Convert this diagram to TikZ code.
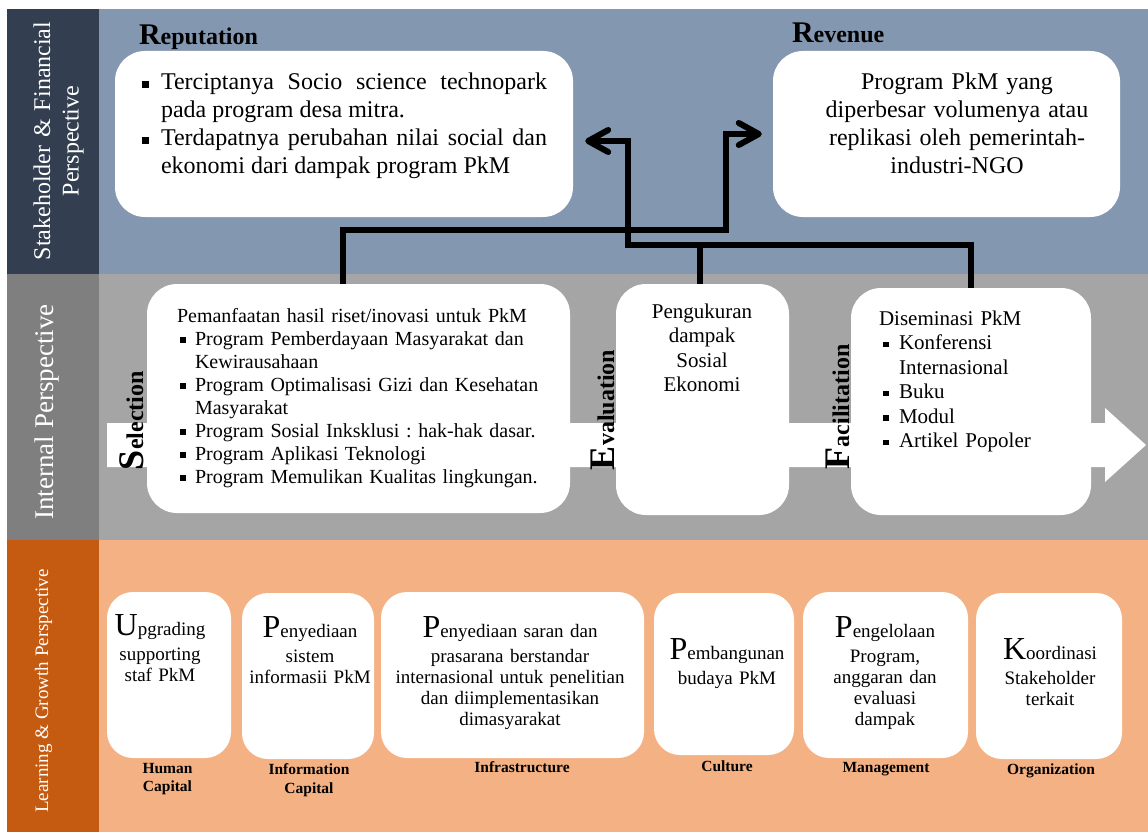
\documentclass[tikz,border=0pt]{standalone}
\usepackage{fontspec}
\setmainfont{Liberation Serif}
\usetikzlibrary{arrows.meta}
\definecolor{topband}{HTML}{8497B0}
\definecolor{topside}{HTML}{333F50}
\definecolor{midband}{HTML}{A5A5A5}
\definecolor{midside}{HTML}{7F7F7F}
\definecolor{botband}{HTML}{F4B183}
\definecolor{botside}{HTML}{C55A11}
\frenchspacing
\newcommand{\sqb}{\raisebox{0.1em}{\rule{0.28em}{0.28em}}}
\newcommand{\bitem}[3]{\noindent\hangindent=#2\hangafter=1\makebox[#2][l]{\hspace{#1}\sqb}#3\par}
\newcommand{\initl}[1]{{\fontsize{32}{21}\selectfont #1}}
\newcommand{\bigini}[1]{{\fontsize{36}{36}\selectfont #1}}
\tikzset{
  wbox/.style={fill=white, draw=none, rounded corners=30pt, inner sep=0pt},
  sbox/.style={fill=white, draw=none, rounded corners=26pt, inner sep=0pt},
  conn/.style={line width=6pt, draw=black, line join=miter},
  tip/.style={-{Straight Barb[length=20pt,width=22pt,round]}},
  txt/.style={inner sep=0pt, outer sep=0pt},
  sidelab/.style={text=white, rotate=90, inner sep=0pt, align=center},
  boxtxt/.style={txt, anchor=base, align=center, font=\fontsize{19}{21}\selectfont},
  caplab/.style={txt, anchor=base, align=center, text width=130pt, font=\bfseries\fontsize{15.5}{18}\selectfont},
  steplab/.style={txt, rotate=90, anchor=base west, font=\bfseries\fontsize{24}{24}\selectfont},
}
\begin{document}
\begin{tikzpicture}[x=1pt,y=1pt]
\useasboundingbox (0,0) rectangle (1148,-832);
% bands
\fill[topband] (7,-9) rectangle (1148,-274);
\fill[topside] (7,-9) rectangle (99,-274);
\fill[midband] (7,-274) rectangle (1148,-540);
\fill[midside] (7,-274) rectangle (99,-540);
\fill[botband] (7,-540) rectangle (1148,-832);
\fill[botside] (7,-540) rectangle (99,-832);
% side labels
\node[sidelab, text width=260pt, anchor=base, font=\fontsize{24}{28.5}\selectfont] (labsf) at (50,-141) {Stakeholder \& Financial\\Perspective};
\node[sidelab, anchor=base, font=\fontsize{27}{28}\selectfont] (labip) at (53,-412) {Internal Perspective};
\node[sidelab, anchor=base, font=\fontsize{19}{22}\selectfont] (lablg) at (48,-691) {Learning \& Growth Perspective};
% white process arrow
\fill[white] (107,-423) -- (1105,-423) -- (1105,-408) -- (1146,-445) -- (1105,-482) -- (1105,-467) -- (107,-467) -- cycle;
% boxes
\node[wbox, minimum width=458pt, minimum height=166pt] (rep) at (344,-134) {};
\node[wbox, minimum width=347pt, minimum height=166pt] (rev) at (946.5,-134) {};
\node[wbox, minimum width=423pt, minimum height=229pt] (sel) at (358.5,-398.5) {};
\node[wbox, minimum width=173pt, minimum height=231pt] (eva) at (702.5,-399.5) {};
\node[wbox, minimum width=240pt, minimum height=227pt] (fac) at (971,-401.5) {};
\node[sbox, minimum width=124pt, minimum height=166pt] (b1) at (169,-675) {};
\node[sbox, minimum width=132pt, minimum height=166pt] (b2) at (308,-676) {};
\node[sbox, minimum width=263pt, minimum height=166pt] (b3) at (512.5,-675) {};
\node[sbox, minimum width=140pt, minimum height=162pt] (b4) at (724,-674) {};
\node[sbox, minimum width=165pt, minimum height=166pt] (b5) at (885.5,-675) {};
\node[sbox, minimum width=146pt, minimum height=166pt] (b6) at (1049,-676) {};
% connectors
\coordinate (j1) at (726,-230);
\coordinate (j2) at (628,-245);
\coordinate (j3) at (700,-245);
\draw[conn, tip] ([xshift=-15.5pt]sel.north) |- (j1) |- ([xshift=-11pt]rev.west);
\draw[conn, tip] (fac.north) |- (j2) |- ([xshift=12pt,yshift=-7pt]rep.east);
\draw[conn] (eva.north -| j3) -- (j3);
% titles
\node[txt, anchor=base west] (trep) at (139,-45) {\bfseries{\fontsize{30}{30}\selectfont R}{\fontsize{24}{24}\selectfont eputation}};
\node[txt, anchor=base west] (trev) at (792,-43) {\bfseries{\fontsize{30}{30}\selectfont R}{\fontsize{24}{24}\selectfont evenue}};
% top texts
\node[txt, anchor=base west, font=\fontsize{24}{28}\selectfont] (reptxt) at (142,-90) {\parbox[t]{405pt}{%
\bitem{0pt}{19pt}{Terciptanya Socio science technopark\linebreak pada program desa mitra.}%
\bitem{0pt}{19pt}{Terdapatnya perubahan nilai social dan\linebreak ekonomi dari dampak program PkM}}};
\node[txt, anchor=base, text width=340pt, align=center, font=\fontsize{24}{28}\selectfont] (revtxt) at (957,-90) {Program PkM yang\\diperbesar volumenya atau\\replikasi oleh pemerintah-\\industri-NGO};
% middle texts
\node[txt, anchor=base west, text width=380pt, align=left, font=\fontsize{20}{23}\selectfont] (seltxt) at (177,-322) {%
Pemanfaatan hasil riset/inovasi untuk PkM\par
\bitem{3pt}{18pt}{Program Pemberdayaan Masyarakat dan\newline Kewirausahaan}%
\bitem{3pt}{18pt}{Program Optimalisasi Gizi dan Kesehatan\newline Masyarakat}%
\bitem{3pt}{18pt}{Program Sosial Inksklusi : hak-hak dasar.}%
\bitem{3pt}{18pt}{Program Aplikasi Teknologi}%
\bitem{3pt}{18pt}{Program Memulikan Kualitas lingkungan.}};
\node[txt, anchor=base, text width=170pt, align=center, font=\fontsize{21}{24.5}\selectfont] (evatxt) at (702,-318) {Pengukuran\\dampak\\Sosial\\Ekonomi};
\node[txt, anchor=base west, text width=210pt, align=left, font=\fontsize{21}{24.5}\selectfont] (factxt) at (879,-325) {%
Diseminasi PkM\par
\bitem{4pt}{20pt}{Konferensi\newline Internasional}%
\bitem{4pt}{20pt}{Buku}%
\bitem{4pt}{20pt}{Modul}%
\bitem{4pt}{20pt}{Artikel Popoler}};
% step labels
\node[steplab] (ls) at (143,-470) {\bigini{S}election};
\node[steplab] (le) at (614,-470) {\bigini{E}valuation};
\node[steplab] (lf) at (849,-469) {\bigini{F}acilitation};
% bottom texts
\node[boxtxt, text width=120pt] (t1) at (160,-635) {\initl{U}pgrading\\[4pt]supporting\\staf PkM};
\node[boxtxt, text width=128pt] (t2) at (310,-637) {\initl{P}enyediaan\\[4pt]sistem\\informasii PkM};
\node[boxtxt, text width=255pt] (t3) at (510,-637) {\initl{P}enyediaan saran dan\\[4pt]prasarana berstandar\\internasional untuk penelitian\\dan diimplementasikan\\dimasyarakat};
\node[boxtxt, text width=136pt] (t4) at (727,-659) {\initl{P}embangunan\\[4pt]budaya PkM};
\node[boxtxt, text width=160pt] (t5) at (885,-637) {\initl{P}engelolaan\\[4pt]Program,\\anggaran dan\\evaluasi\\dampak};
\node[boxtxt, text width=142pt] (t6) at (1050,-659) {\initl{K}oordinasi\\[4pt]Stakeholder\\terkait};
% captions
\node[caplab] (c1) at (167.5,-773) {Human\\Capital};
\node[caplab, font=\bfseries\fontsize{15.5}{19}\selectfont] (c2) at (309,-774) {Information\\Capital};
\node[caplab] (c3) at (522,-772) {Infrastructure};
\node[caplab] (c4) at (727,-771) {Culture};
\node[caplab] (c5) at (886,-772) {Management};
\node[caplab] (c6) at (1051,-774) {Organization};
\end{tikzpicture}
\end{document}
